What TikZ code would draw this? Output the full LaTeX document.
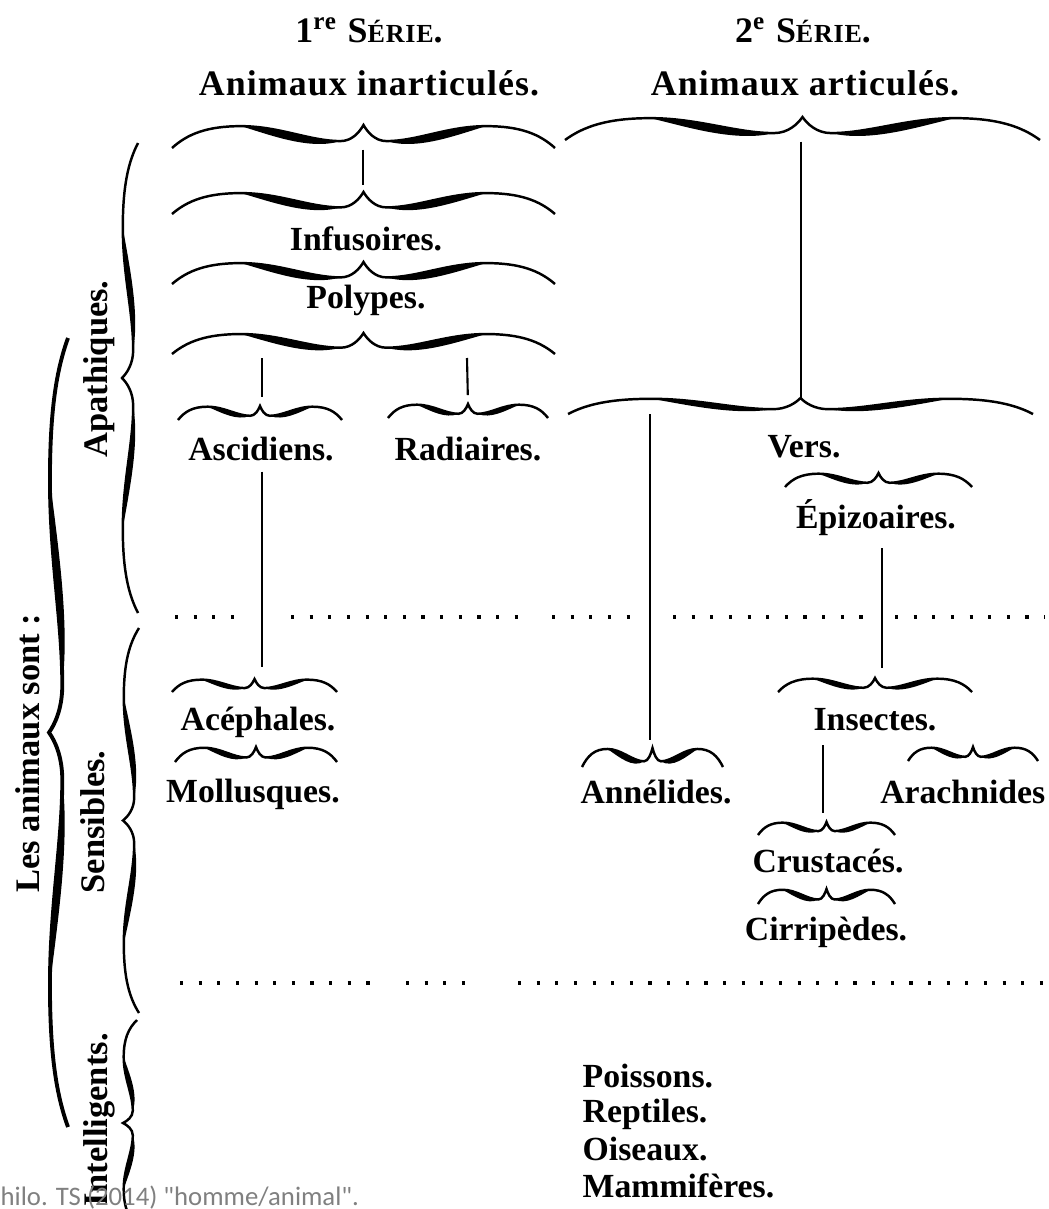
\documentclass[tikz,border=0pt]{standalone}
\usepackage{fontspec}
\setmainfont{Liberation Serif}
\newfontfamily\capfont{Carlito}
\usetikzlibrary{positioning}

\tikzset{
  wbr line/.style={line width=0.7pt},
  wbr/.pic={
    \draw[wbr line] (0,0) .. controls (4,-12) and (9,-19) .. (18,-19)
      .. controls (28,-19) and (36,-6) .. (44,-6)
      .. controls (47,-6) and (49,-14) .. (50,-20)
      .. controls (51,-14) and (53,-6) .. (56,-6)
      .. controls (64,-6) and (72,-19) .. (82,-19)
      .. controls (91,-19) and (96,-12) .. (100,0);
    \fill (18,-19) .. controls (28,-19) and (36,-6) .. (44,-6)
      .. controls (36,2) and (26,-11) .. (18,-19) -- cycle;
    \fill (56,-6) .. controls (64,-6) and (72,-19) .. (82,-19)
      .. controls (74,-11) and (64,2) .. (56,-6) -- cycle;
  }
}

\begin{document}
\begin{tikzpicture}[x=0.01cm, y=-0.01cm,
  lbl/.style={font=\bfseries\fontsize{9.6}{12}\selectfont, inner sep=0pt, anchor=base},
  head/.style={font=\bfseries\fontsize{10.2}{12}\selectfont\addfontfeatures{LetterSpace=3}, inner sep=0pt, anchor=base},
  sidelbl/.style={font=\bfseries\fontsize{9.8}{12}\selectfont, inner sep=0pt, rotate=90},
  link/.style={line width=0.6pt},
  dotrow/.style={line width=0.9pt, dash pattern=on 0.9pt off 4.4pt}
]
  \path[fill=white, use as bounding box] (0,0) rectangle (1048,1209);

  \node[head] (ser1) at (369,42) {1\textsuperscript{re} S{\fontsize{7.4}{9}\selectfont ÉRIE}.};
  \node[head] (ser2) at (803,42) {2\textsuperscript{e} S{\fontsize{7.4}{9}\selectfont ÉRIE}.};
  \node[head] (inart) at (369,95) {Animaux inarticulés.};
  \node[head] (art) at (805,95) {Animaux articulés.};

  \pic[xscale=3.83, yscale=1.15] at (172,148) {wbr};
  \pic[xscale=4.75, yscale=1.15] at (565,140) {wbr};
  \coordinate (tInart) at (363,125);
  \coordinate (tArt) at (801,117);

  \pic[xscale=3.83, yscale=1.1] at (172,214) {wbr};
  \coordinate (tInfus) at (363,192);
  \node[lbl] (infus) at (366,250) {Infusoires.};
  \pic[xscale=3.83, yscale=1.1] at (172,284) {wbr};
  \node[lbl] (polyp) at (366,308) {Polypes.};
  \pic[xscale=3.83, yscale=1.05] at (172,354) {wbr};
  \coordinate (p5a) at (262,358);
  \coordinate (p5b) at (467,358);

  \pic[xscale=1.64, yscale=0.7] at (178,420) {wbr};
  \pic[xscale=1.6, yscale=0.7] at (388,418) {wbr};
  \coordinate (tAsc) at (260,406);
  \coordinate (tRad) at (468,404);
  \node[lbl] (asc) at (261,460) {Ascidiens.};
  \node[lbl] (rad) at (468,460) {Radiaires.};

  \pic[xscale=4.65, yscale=0.8] at (568,414) {wbr};
  \coordinate (tVers) at (801,398);
  \node[lbl] (vers) at (804,457) {Vers.};
  \pic[xscale=1.87, yscale=0.7] at (785,487) {wbr};
  \node[lbl] (epi) at (876,528) {Épizoaires.};

  \pic[xscale=1.65, yscale=0.65] at (172,692) {wbr};
  \coordinate (tAcep) at (254,679);
  \node[lbl] (acep) at (258,730) {Acéphales.};
  \pic[xscale=1.62, yscale=0.75] at (175,762) {wbr};
  \node[lbl] (moll) at (253,802) {Mollusques.};

  \pic[xscale=1.94, yscale=0.7] at (778,692) {wbr};
  \coordinate (tIns) at (875,678);
  \node[lbl] (ins) at (875,730) {Insectes.};
  \pic[xscale=1.41, yscale=0.95] at (582,767) {wbr};
  \coordinate (tAnn) at (650,748);
  \node[lbl] (ann) at (656,803) {Annélides.};
  \pic[xscale=1.3, yscale=0.7] at (908,761) {wbr};
  \node[lbl, anchor=base east] (arach) at (1046,803) {Arachnides};
  \pic[xscale=1.37, yscale=0.65] at (758,835) {wbr};
  \coordinate (tCru) at (823,822);
  \node[lbl] (crus) at (828,872) {Crustacés.};
  \pic[xscale=1.37, yscale=0.75] at (758,904) {wbr};
  \node[lbl] (cirr) at (826,940) {Cirripèdes.};

  \node[lbl, anchor=base west] (poiss) at (582,1087) {Poissons.};
  \node[lbl, anchor=base west] (rept) at (582,1122) {Reptiles.};
  \node[lbl, anchor=base west] (ois) at (582,1160) {Oiseaux.};
  \node[lbl, anchor=base west] (mamm) at (582,1197) {Mammifères.};

  \draw[link, shorten <=7pt, shorten >=2pt] (tInart) -- (tInfus);
  \draw[link, shorten >=2.5pt] (p5a) -- (p5a |- tAsc);
  \draw[link, shorten >=2.5pt] (p5b) -- (tRad);
  \draw[link, shorten <=7pt] (tArt) -- (tVers);
  \draw[link, shorten <=3pt, shorten >=3.4pt] (asc.south -| p5a) -- (p5a |- tAcep);
  \coordinate (v1) at (650,414);
  \draw[link, shorten >=2.3pt] (v1) -- (tAnn);
  \coordinate (e1) at (882,548);
  \draw[link, shorten >=2.8pt] (e1) -- (e1 |- tIns);
  \draw[link, shorten <=4pt, shorten >=2.5pt] (ins.south -| tCru) -- (tCru);

  \draw[dotrow] (175,617) -- (240,617);
  \draw[dotrow] (291,617) -- (525,617);
  \draw[dotrow] (552,617) -- (640,617);
  \draw[dotrow] (673,617) -- (870,617);
  \draw[dotrow] (895,617) -- (1045,617);
  \draw[dotrow] (180,983) -- (375,983);
  \draw[dotrow] (406,983) -- (470,983);
  \draw[dotrow] (518,983) -- (1045,983);

  \node[sidelbl] (sont) at (28,753) {Les animaux sont :};
  \pic[rotate=90, xscale=7.89, yscale=0.95, wbr line/.style={line width=1.1pt}] at (68,1127) {wbr};
  \node[sidelbl] (apath) at (99,369) {Apathiques.};
  \pic[rotate=90, xscale=4.7, yscale=0.8] at (138,613) {wbr};
  \node[sidelbl] (sens) at (93,822) {Sensibles.};
  \pic[rotate=90, xscale=3.85, yscale=0.8] at (139,1013) {wbr};
  \node[sidelbl] (intel) at (99,1120) {Intelligents.};
  \pic[rotate=90, xscale=2.06, yscale=0.7] at (137,1226) {wbr};

  \node[anchor=base west, inner sep=0pt, text=black!50, font=\capfont\fontsize{7.6}{9}\selectfont] (src) at (0,1205) {hilo. TS (2014) "homme/animal".};
\end{tikzpicture}
\end{document}
